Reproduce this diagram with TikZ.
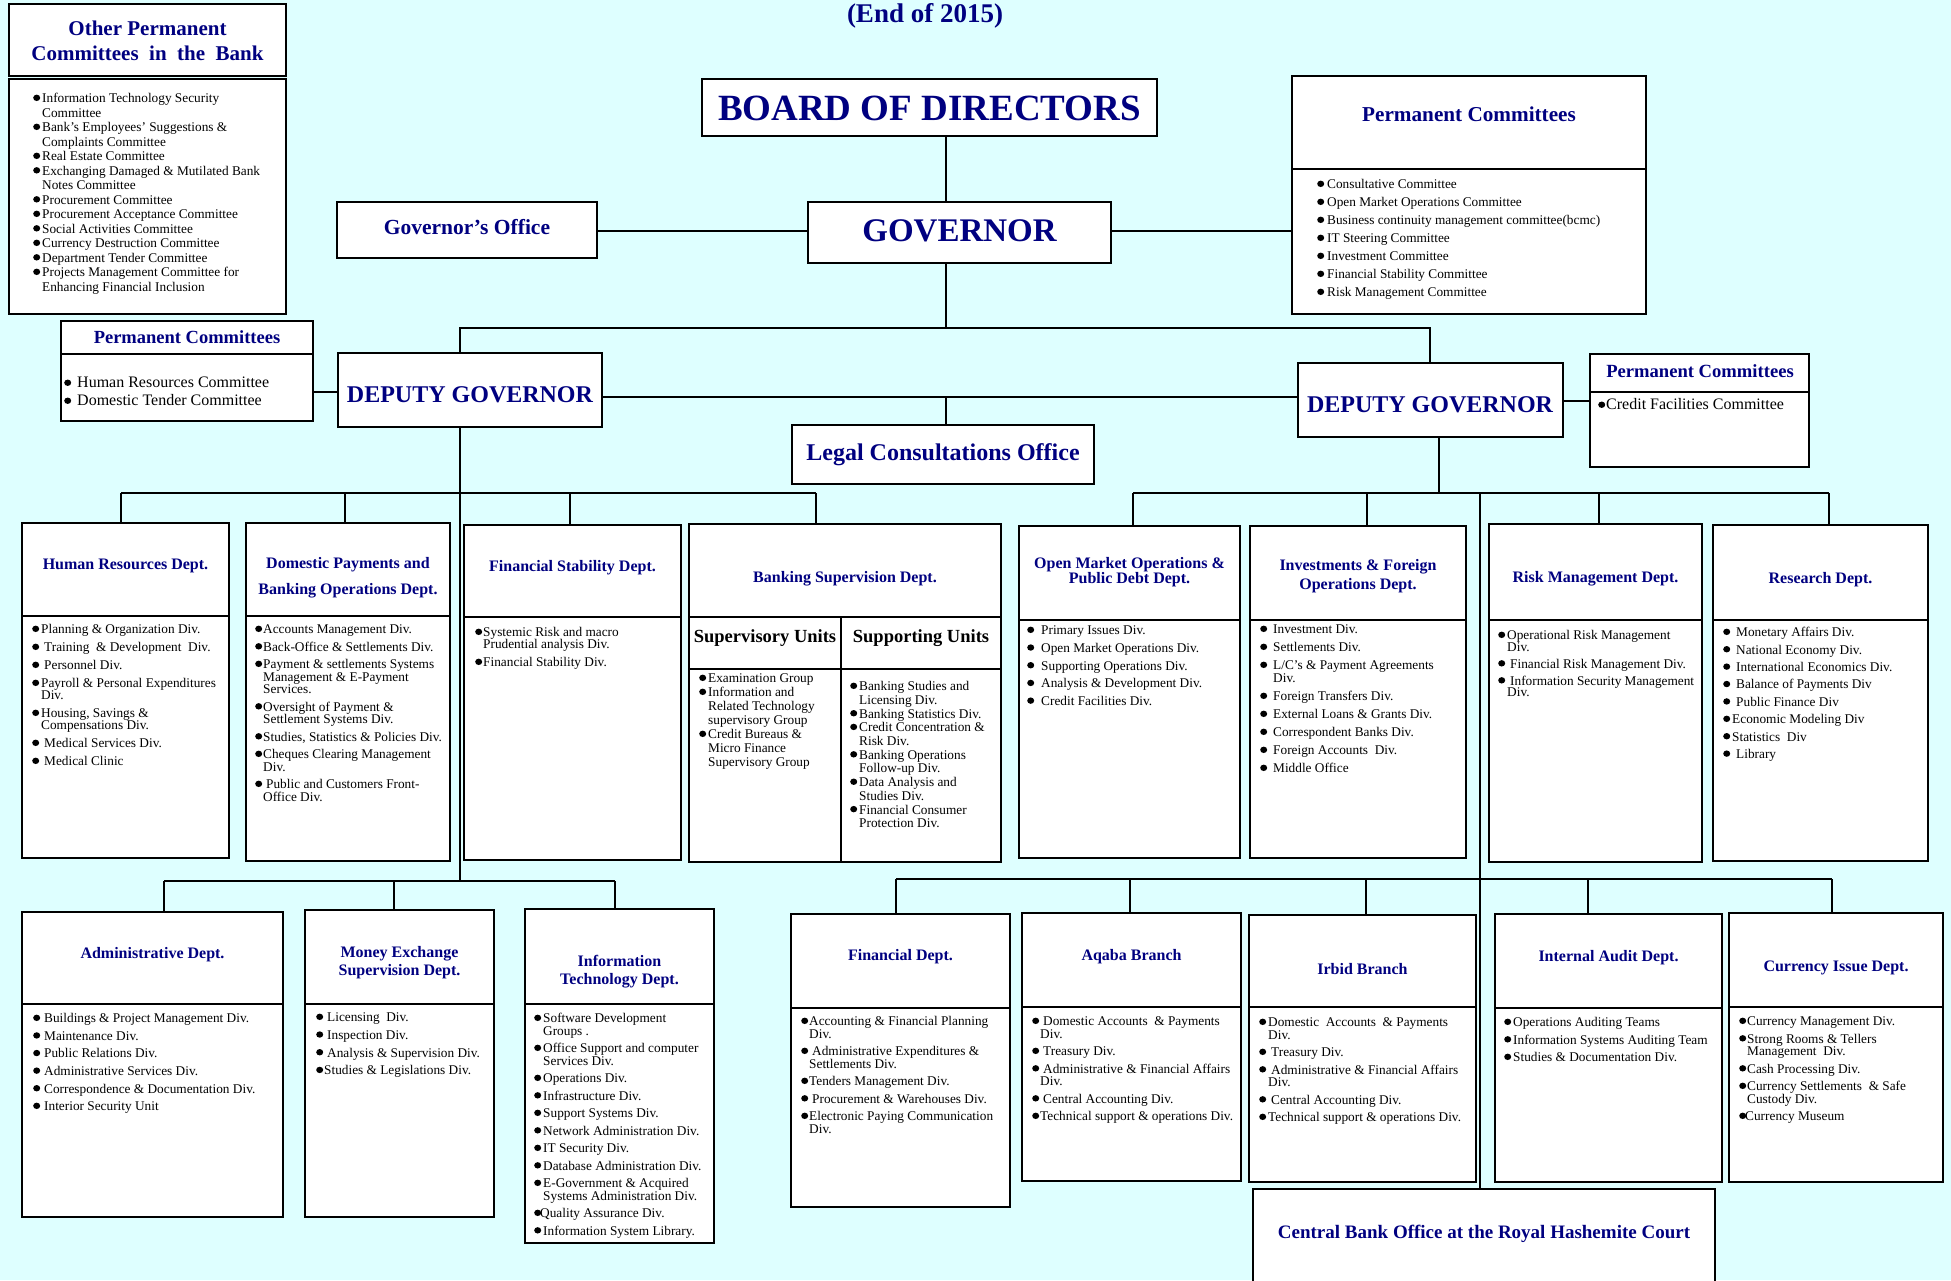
\documentclass[tikz,border=0pt]{standalone}
\usepackage{fontspec}
\setmainfont{Liberation Serif}
\usetikzlibrary{calc}
\definecolor{bg}{RGB}{222,255,255}
\definecolor{navy}{RGB}{0,0,128}
\newlength\bw
\newcommand\bul{\tikz[baseline=0pt]\fill[black] (3.5pt,4.9pt) circle[x radius=3.5pt, y radius=3.2pt];}
\newcommand\bi{\makebox[\bw][l]{\bul}}
\newcommand\bj{\makebox[6pt][l]{\bul}}
\newcommand\ci{\hspace*{\bw}}
\tikzset{
 box/.style={draw=black, line width=2.2pt, fill=white, inner sep=0pt, outer sep=0pt},
 conn/.style={draw=black, line width=1.8pt},
 ttl/.style={text=navy, font=\bfseries\fontsize{16}{19}\selectfont, align=center, inner sep=0pt},
 lst/.style={anchor=north west, inner sep=0pt, align=left, text=black},
}
\newcommand\Bx[5]{\node[box, minimum width={(#4-#2)*1pt}, minimum height={(#5-#3)*1pt}] (#1) at ({(#2+#4)/2},{(#3+#5)/2}) {};}
\newcommand\Ls[7]{\global\bw=#4pt\relax\node[lst, font={\fontsize{#5}{#6}\selectfont\lineskiplimit=-100pt\lineskip=0pt}] (#1) at (#2,{#3-0.41*#5}) {\rule{0pt}{.75em}#7};}
\begin{document}
\begin{tikzpicture}[x=1pt,y=-1pt]
\useasboundingbox (0,0) rectangle (1951,1280);
\fill[bg] (0,0) rectangle (1951,1280);

% ---------- coordinates for connectors
\coordinate (xg) at (946,328);
\coordinate (bar1L) at (460,328);
\coordinate (bar1R) at (1430,328);
\coordinate (yg) at (0,231);
\coordinate (ylp) at (0,392);
\coordinate (ydg) at (0,397);
\coordinate (yrp) at (0,401);
\coordinate (tl1) at (121,493);
\coordinate (tl2) at (345,493);
\coordinate (tl3) at (570,493);
\coordinate (tl4) at (816,493);
\coordinate (xl) at (460,881);
\coordinate (bl1) at (164,881);
\coordinate (bl2) at (394,881);
\coordinate (bl3) at (615,881);
\coordinate (tr0) at (1439,493);
\coordinate (tr1) at (1133,493);
\coordinate (tr2) at (1367,493);
\coordinate (tr3) at (1599,493);
\coordinate (tr4) at (1829,493);
\coordinate (tlong) at (1480,493);
\coordinate (br1) at (896,879);
\coordinate (br2) at (1130,879);
\coordinate (br3) at (1366,879);
\coordinate (br4) at (1588,879);
\coordinate (br5) at (1832,879);

% ---------- boxes
\Bx{opcT}{9}{4}{286}{76}
\Bx{opcL}{9}{79}{286}{314}
\Bx{board}{702}{79}{1157}{136}
\Bx{gof}{337}{202}{597}{258}
\Bx{gov}{808}{202}{1111}{263}
\Bx{gpcT}{1292}{76}{1646}{169}
\Bx{gpcL}{1292}{169}{1646}{314}
\Bx{lpcT}{61}{321}{313}{354}
\Bx{lpcL}{61}{354}{313}{421}
\Bx{ldg}{338}{353}{602}{427}
\Bx{legal}{792}{425}{1094}{484}
\Bx{rdg}{1298}{363}{1563}{437}
\Bx{rpcT}{1590}{354}{1809}{392}
\Bx{rpcL}{1590}{392}{1809}{467}
\Bx{hrT}{22}{523}{229}{616} \Bx{hrL}{22}{616}{229}{858}
\Bx{dpT}{246}{523}{450}{616} \Bx{dpL}{246}{616}{450}{861}
\Bx{fsT}{464}{525}{681}{617} \Bx{fsL}{464}{617}{681}{860}
\Bx{bsT}{689}{524}{1001}{617}
\Bx{svT}{689}{617}{841}{669} \Bx{svL}{689}{669}{841}{862}
\Bx{spT}{841}{617}{1001}{669} \Bx{spL}{841}{669}{1001}{862}
\Bx{omoT}{1019}{526}{1240}{620} \Bx{omoL}{1019}{620}{1240}{858}
\Bx{invT}{1250}{526}{1466}{620} \Bx{invL}{1250}{620}{1466}{858}
\Bx{rskT}{1489}{524}{1702}{620} \Bx{rskL}{1489}{620}{1702}{862}
\Bx{resT}{1713}{525}{1928}{620} \Bx{resL}{1713}{620}{1928}{861}
\Bx{admT}{22}{912}{283}{1004} \Bx{admL}{22}{1004}{283}{1217}
\Bx{mexT}{305}{910}{494}{1004} \Bx{mexL}{305}{1004}{494}{1217}
\Bx{itT}{525}{909}{714}{1004} \Bx{itL}{525}{1004}{714}{1243}
\Bx{finT}{791}{914}{1010}{1008} \Bx{finL}{791}{1008}{1010}{1207}
\Bx{aqT}{1022}{913}{1241}{1007} \Bx{aqL}{1022}{1007}{1241}{1181}
\Bx{irbT}{1249}{915}{1476}{1007} \Bx{irbL}{1249}{1007}{1476}{1182}
\Bx{iaT}{1495}{914}{1722}{1008} \Bx{iaL}{1495}{1008}{1722}{1182}
\Bx{curT}{1729}{913}{1943}{1007} \Bx{curL}{1729}{1007}{1943}{1182}
\Bx{cbo}{1253}{1189}{1715}{1300}

% ---------- connectors
\draw[conn] (xg |- board.south) -- (xg |- gov.north);
\draw[conn] (xg |- gov.south) -- (xg);
\draw[conn] (bar1L |- ldg.north) -- (bar1L) -- (bar1R) -- (bar1R |- rdg.north);
\draw[conn] (gof.east |- yg) -- (gov.west |- yg);
\draw[conn] (gov.east |- yg) -- (gpcL.west |- yg);
\draw[conn] (lpcL.east |- ylp) -- (ldg.west |- ylp);
\draw[conn] (ldg.east |- ydg) -- (rdg.west |- ydg);
\draw[conn] (xg |- ydg) -- (xg |- legal.north);
\draw[conn] (rdg.east |- yrp) -- (rpcL.west |- yrp);
\draw[conn] (xl |- ldg.south) -- (xl);
\draw[conn] (tl1) -- (tl4);
\draw[conn] (tl1) -- (tl1 |- hrT.north);
\draw[conn] (tl2) -- (tl2 |- dpT.north);
\draw[conn] (tl3) -- (tl3 |- fsT.north);
\draw[conn] (tl4) -- (tl4 |- bsT.north);
\draw[conn] (bl1) -- (bl3);
\draw[conn] (bl1) -- (bl1 |- admT.north);
\draw[conn] (bl2) -- (bl2 |- mexT.north);
\draw[conn] (bl3) -- (bl3 |- itT.north);
\draw[conn] (tr0 |- rdg.south) -- (tr0);
\draw[conn] (tr1) -- (tr4);
\draw[conn] (tr1) -- (tr1 |- omoT.north);
\draw[conn] (tr2) -- (tr2 |- invT.north);
\draw[conn] (tr3) -- (tr3 |- rskT.north);
\draw[conn] (tr4) -- (tr4 |- resT.north);
\draw[conn] (tlong) -- (tlong |- cbo.north);
\draw[conn] (br1) -- (br5);
\draw[conn] (br1) -- (br1 |- finT.north);
\draw[conn] (br2) -- (br2 |- aqT.north);
\draw[conn] (br3) -- (br3 |- irbT.north);
\draw[conn] (br4) -- (br4 |- iaT.north);
\draw[conn] (br5) -- (br5 |- curT.north);

% ---------- titles
\node[ttl, font=\bfseries\fontsize{27}{30}\selectfont] (yr) at (925,16) {(End of 2015)};
\node[ttl, font=\bfseries\fontsize{21}{25}\selectfont] (opcTx) at (147.5,40.5) {Other Permanent\\Committees\ \ in\ \ the\ \ Bank};
\node[ttl, font=\bfseries\fontsize{37}{40}\selectfont] (boardTx) at (929.5,108) {BOARD OF DIRECTORS};
\node[ttl, font=\bfseries\fontsize{33}{36}\selectfont] (govTx) at (959.5,231) {GOVERNOR};
\node[ttl, font=\bfseries\fontsize{21.5}{24}\selectfont] (gofTx) at (467,227) {Governor’s Office};
\node[ttl, font=\bfseries\fontsize{21.2}{24}\selectfont] (gpcTx) at (1469,114) {Permanent Committees};
\node[ttl, font=\bfseries\fontsize{18.5}{21}\selectfont] (lpcTx) at (187,337) {Permanent Committees};
\node[ttl, font=\bfseries\fontsize{24}{27}\selectfont] (ldgTx) at (470,395) {DEPUTY GOVERNOR};
\node[ttl, font=\bfseries\fontsize{24}{27}\selectfont] (legalTx) at (943,455) {Legal Consultations Office};
\node[ttl, font=\bfseries\fontsize{24}{27}\selectfont] (rdgTx) at (1430,405) {DEPUTY GOVERNOR};
\node[ttl, font=\bfseries\fontsize{18.6}{21}\selectfont] (rpcTx) at (1700,371) {Permanent Committees};
\node[ttl] (hrTx) at (125.5,566) {Human Resources Dept.};
\node[ttl, font=\bfseries\fontsize{16}{26}\selectfont] (dpTx) at (348,578) {Domestic Payments and\\Banking Operations Dept.};
\node[ttl] (fsTx) at (572.5,568) {Financial Stability Dept.};
\node[ttl] (bsTx) at (845,579) {Banking Supervision Dept.};
\node[inner sep=0pt, font=\bfseries\fontsize{18.5}{20}\selectfont] (svTx) at (765,638) {Supervisory Units};
\node[inner sep=0pt, font=\bfseries\fontsize{18.5}{20}\selectfont] (spTx) at (921,638) {Supporting Units};
\node[ttl, font=\bfseries\fontsize{16}{15}\selectfont] (omoTx) at (1129.5,572.5) {Open Market Operations \&\\Public Debt Dept.};
\node[ttl, font=\bfseries\fontsize{16}{19}\selectfont] (invTx) at (1358,576.5) {Investments \& Foreign\\Operations Dept.};
\node[ttl] (rskTx) at (1595.5,579) {Risk Management Dept.};
\node[ttl] (resTx) at (1820.5,580) {Research Dept.};
\node[ttl] (admTx) at (152.5,955) {Administrative Dept.};
\node[ttl, font=\bfseries\fontsize{16}{18}\selectfont] (mexTx) at (399.5,963) {Money Exchange\\Supervision Dept.};
\node[ttl, font=\bfseries\fontsize{16}{18}\selectfont] (itTx) at (619.5,972) {Information\\Technology Dept.};
\node[ttl] (finTx) at (900.5,957) {Financial Dept.};
\node[ttl] (aqTx) at (1131.5,957) {Aqaba Branch};
\node[ttl] (irbTx) at (1362.5,969) {Irbid Branch};
\node[ttl] (iaTx) at (1608.5,958) {Internal Audit Dept.};
\node[ttl] (curTx) at (1836,968) {Currency Issue Dept.};
\node[ttl, font=\bfseries\fontsize{19}{22}\selectfont] (cboTx) at (1484,1234) {Central Bank Office at the Royal Hashemite Court};

% ---------- lists
\Ls{opcLx}{33}{98}{9}{13.3}{14.5}{\bi Information Technology Security\\ \ci Committee\\ \bi Bank's Employees' Suggestions \&\\ \ci Complaints Committee\\ \bi Real Estate Committee\\ \bi Exchanging Damaged \& Mutilated Bank\\ \ci Notes Committee\\ \bi Procurement Committee\\ \bi Procurement Acceptance Committee\\ \bi Social Activities Committee\\ \bi Currency Destruction Committee\\ \bi Department Tender Committee\\ \bi Projects Management Committee for\\ \ci Enhancing Financial Inclusion}
\Ls{gpcLx}{1317}{184}{10}{13.3}{18}{\bi Consultative Committee\\ \bi Open Market Operations Committee\\ \bi Business continuity management committee(bcmc)\\ \bi IT Steering Committee\\ \bi Investment Committee\\ \bi Financial Stability Committee\\ \bi Risk Management Committee}
\Ls{lpcLx}{64}{382}{13}{16}{18}{\bi Human Resources Committee\\ \bi Domestic Tender Committee}
\Ls{rpcLx}{1598}{404}{8}{16}{18}{\bi Credit Facilities Committee}
\Ls{hrLx}{32}{629}{9}{13.3}{12}{\bi Planning \& Organization Div.\\[6pt] \bi\hspace{3pt}Training\ \ \& Development\ \ Div.\\[6pt] \bi\hspace{3pt}Personnel Div.\\[6pt] \bi Payroll \& Personal Expenditures\\ \ci Div.\\[6pt] \bi Housing, Savings \&\\ \ci Compensations Div.\\[6pt] \bi\hspace{3pt}Medical Services Div.\\[6pt] \bi\hspace{3pt}Medical Clinic}
\Ls{dpLx}{255}{629}{8}{13.3}{12.5}{\bi Accounts Management Div.\\[5pt] \bi Back-Office \& Settlements Div.\\[5pt] \bi Payment \& settlements Systems\\ \ci Management \& E-Payment\\ \ci Services.\\[5pt] \bi Oversight of Payment \&\\ \ci Settlement Systems Div.\\[5pt] \bi Studies, Statistics \& Policies Div.\\[5pt] \bi Cheques Clearing Management\\ \ci Div.\\[5pt] \bi\hspace{3pt}Public and Customers Front-\\ \ci Office Div.}
\Ls{fsLx}{475}{632}{8}{13.3}{12}{\bi Systemic Risk and macro\\ \ci Prudential analysis Div.\\[6pt] \bi Financial Stability Div.}
\Ls{svLx}{699}{678}{9}{13.3}{14}{\bi Examination Group\\ \bi Information and\\ \ci Related Technology\\ \ci supervisory Group\\ \bi Credit Bureaus \&\\ \ci Micro Finance\\ \ci Supervisory Group}
\Ls{spLx}{850}{686}{9}{13.3}{13.7}{\bi Banking Studies and\\ \ci Licensing Div.\\ \bi Banking Statistics Div.\\ \bi Credit Concentration \&\\ \ci Risk Div.\\ \bi Banking Operations\\ \ci Follow-up Div.\\ \bi Data Analysis and\\ \ci Studies Div.\\ \bi Financial Consumer\\ \ci Protection Div.}
\Ls{omoLx}{1027}{630}{14}{13.3}{17.7}{\bi Primary Issues Div.\\ \bi Open Market Operations Div.\\ \bi Supporting Operations Div.\\ \bi Analysis \& Development Div.\\ \bi Credit Facilities Div.}
\Ls{invLx}{1260}{629}{13}{13.3}{13}{\bi Investment Div.\\[5pt] \bi Settlements Div.\\[5pt] \bi L/C’s \& Payment Agreements\\ \ci Div.\\[5pt] \bi Foreign Transfers Div.\\[5pt] \bi External Loans \& Grants Div.\\[5pt] \bi Correspondent Banks Div.\\[5pt] \bi Foreign Accounts\ \ Div.\\[5pt] \bi Middle Office}
\Ls{rskLx}{1498}{635}{9}{13.3}{11.5}{\bi Operational Risk Management\\ \ci Div.\\[5.5pt] \bi\hspace{3pt}Financial Risk Management Div.\\[5.5pt] \bi\hspace{3pt}Information Security Management\\ \ci Div.}
\Ls{resLx}{1723}{632}{13}{13.3}{17.4}{\bi Monetary Affairs Div.\\ \bi National Economy Div.\\ \bi International Economics Div.\\ \bi Balance of Payments Div\\ \bi Public Finance Div\\ \makebox[9pt][l]{\bul}Economic Modeling Div\\ \makebox[9pt][l]{\bul}Statistics\ \ Div\\ \bi Library}
\Ls{admLx}{33}{1018}{11}{13.3}{17.6}{\bi Buildings \& Project Management Div.\\ \bi Maintenance Div.\\ \bi Public Relations Div.\\ \bi Administrative Services Div.\\ \bi Correspondence \& Documentation Div.\\ \bi Interior Security Unit}
\Ls{mexLx}{316}{1017}{11}{13.3}{17.7}{\bi Licensing\ \ Div.\\ \bi Inspection Div.\\ \bi Analysis \& Supervision Div.\\ \makebox[8pt][l]{\bul}Studies \& Legislations Div.}
\Ls{itLx}{534}{1018}{9}{13.3}{12.5}{\bi Software Development\\ \ci Groups .\\[5pt] \bi Office Support and computer\\ \ci Services Div.\\[5pt] \bi Operations Div.\\[5pt] \bi Infrastructure Div.\\[5pt] \bi Support Systems Div.\\[5pt] \bi Network Administration Div.\\[5pt] \bi IT Security Div.\\[5pt] \bi Database Administration Div.\\[5pt] \bi E-Government \& Acquired\\ \ci Systems Administration Div.\\[5pt] \bj Quality Assurance Div.\\[5pt] \bi Information System Library.}
\Ls{finLx}{801}{1021}{8}{13.3}{12.5}{\bi Accounting \& Financial Planning\\ \ci Div.\\[5pt] \bi\hspace{3pt}Administrative Expenditures \&\\ \ci Settlements Div.\\[5pt] \bi Tenders Management Div.\\[5pt] \bi\hspace{3pt}Procurement \& Warehouses Div.\\[5pt] \bi Electronic Paying Communication\\ \ci Div.}
\Ls{aqLx}{1032}{1021}{8}{13.3}{12.5}{\bi\hspace{3pt}Domestic Accounts\ \ \& Payments\\ \ci Div.\\[5pt] \bi\hspace{3pt}Treasury Div.\\[5pt] \bi\hspace{3pt}Administrative \& Financial Affairs\\ \ci Div.\\[5pt] \bi\hspace{3pt}Central Accounting Div.\\[5pt] \bi Technical support \& operations Div.}
\Ls{irbLx}{1259}{1022}{9}{13.3}{12.5}{\bi Domestic\ \ Accounts\ \ \& Payments\\ \ci Div.\\[5pt] \bi\hspace{3pt}Treasury Div.\\[5pt] \bi\hspace{3pt}Administrative \& Financial Affairs\\ \ci Div.\\[5pt] \bi\hspace{3pt}Central Accounting Div.\\[5pt] \bi Technical support \& operations Div.}
\Ls{iaLx}{1504}{1022}{9}{13.3}{17.5}{\bi Operations Auditing Teams\\ \bi Information Systems Auditing Team\\ \bi Studies \& Documentation Div.}
\Ls{curLx}{1739}{1021}{8}{13.3}{12.5}{\bi Currency Management Div.\\[5pt] \bi Strong Rooms \& Tellers\\ \ci Management\ \ Div.\\[5pt] \bi Cash Processing Div.\\[5pt] \bi Currency Settlements\ \ \& Safe\\ \ci Custody Div.\\[5pt] \bj Currency Museum}
\end{tikzpicture}
\end{document}
